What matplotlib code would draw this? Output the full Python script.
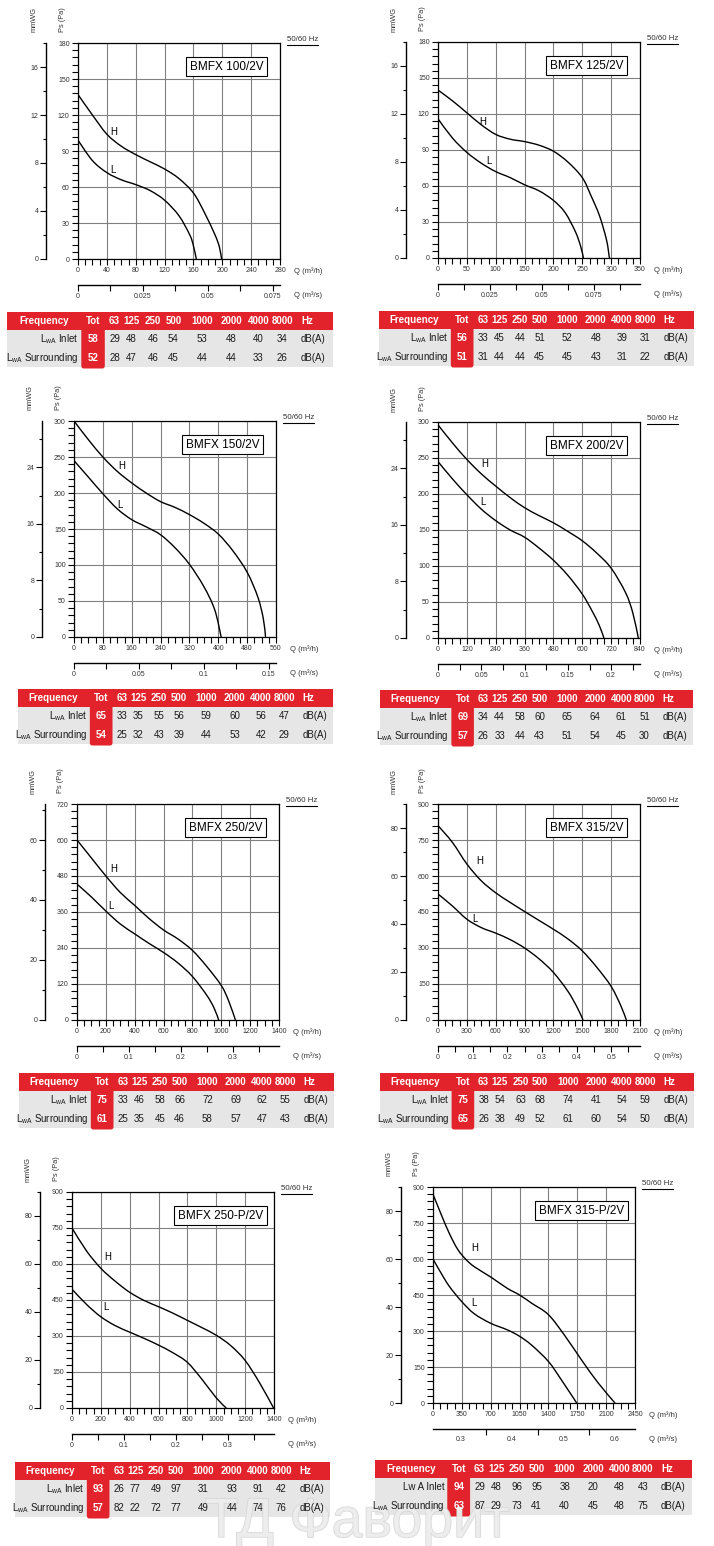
import numpy as np
import matplotlib
matplotlib.use("Agg")
import matplotlib.pyplot as plt
import matplotlib.patheffects as pe
from matplotlib.patches import Rectangle, FancyBboxPatch, PathPatch
from matplotlib.path import Path
from matplotlib.ticker import MultipleLocator, FixedLocator, FuncFormatter

plt.rcParams['font.family'] = ['Liberation Sans', 'DejaVu Sans']
plt.rcParams['mathtext.fontset'] = 'custom'
plt.rcParams['mathtext.rm'] = 'Liberation Sans'

# ---- chart data ----
MODELS = ["BMFX 100/2V", "BMFX 125/2V", "BMFX 150/2V", "BMFX 200/2V",
          "BMFX 250/2V", "BMFX 315/2V", "BMFX 250-P/2V", "BMFX 315-P/2V"]
Q_MAX = [280, 350, 560, 840, 1400, 2100, 1400, 2450]
Q_STEP = [40, 50, 80, 120, 200, 300, 200, 350]
PS_MAX = [180, 180, 300, 300, 720, 900, 900, 900]
PS_STEP = [30, 30, 50, 50, 120, 150, 150, 150]
MMWG_STEP = [4, 4, 8, 8, 20, 20, 20, 20]
PA_PER_MMWG = [10, 10, 9.81, 9.81, 10, 10, 10, 10]

# second flow scale (m3/s) as printed under each chart
QS_OFFSET = [0, 0, 0, 0, 0, 0, 0, 0.247]
M3H_PER_QS = [3600, 3600, 3600, 3600, 3600, 3600, 3600, 6256]
QS_LABELS = [[0, 0.025, 0.05, 0.075], [0, 0.025, 0.05, 0.075], [0, 0.05, 0.1, 0.15],
             [0, 0.05, 0.1, 0.15, 0.2], [0, 0.1, 0.2, 0.3], [0, 0.1, 0.2, 0.3, 0.4, 0.5],
             [0, 0.1, 0.2, 0.3], [0.3, 0.4, 0.5, 0.6]]
QS_MINOR = [[0.0125, 0.0375, 0.0625], [0.0125, 0.0375, 0.0625, 0.0875],
            [0.025, 0.075, 0.125], [0.025, 0.075, 0.125, 0.175, 0.225],
            [0.05, 0.15, 0.25, 0.35], [0.05, 0.15, 0.25, 0.35, 0.45, 0.55],
            [0.05, 0.15, 0.25, 0.35], [0.35, 0.45, 0.55]]

H_Q = [[0, 20, 40, 60, 80, 100, 120, 140, 160, 175, 190, 196, 199],
       [0, 25, 50, 75, 100, 125, 150, 175, 200, 225, 250, 265, 280, 292, 297],
       [0, 40, 80, 120, 160, 200, 240, 280, 320, 360, 400, 440, 480, 510, 525, 531],
       [0, 60, 120, 180, 240, 300, 360, 420, 480, 540, 600, 660, 720, 780, 810, 833],
       [0, 100, 200, 300, 400, 500, 600, 700, 800, 900, 1000, 1050, 1098],
       [0, 150, 300, 450, 600, 750, 900, 1050, 1200, 1350, 1500, 1650, 1800, 1900, 1958],
       [0, 100, 200, 300, 400, 500, 600, 700, 800, 900, 1000, 1100, 1200, 1300, 1397],
       [0, 100, 200, 300, 400, 500, 700, 900, 1050, 1200, 1400, 1600, 1800, 2000, 2207]]
H_PS = [[137, 120, 104, 94, 87, 81, 75, 67, 55, 39, 20, 10, 0],
        [140, 131, 121, 111, 103, 99, 97, 94, 89, 80, 67, 52, 35, 15, 0],
        [300, 274, 250, 230, 214, 200, 188, 180, 170, 158, 143, 120, 90, 55, 25, 0],
        [296, 271, 248, 228, 211, 195, 181, 170, 160, 148, 135, 118, 97, 63, 35, 0],
        [600, 540, 480, 425, 382, 338, 300, 270, 232, 178, 115, 65, 0],
        [810, 740, 650, 580, 530, 490, 452, 415, 378, 338, 288, 220, 140, 60, 0],
        [750, 655, 582, 528, 482, 448, 422, 395, 365, 335, 303, 260, 198, 105, 0],
        [870, 785, 705, 640, 598, 568, 525, 478, 450, 415, 368, 280, 180, 85, 0]]
L_Q = [[0, 20, 40, 60, 80, 100, 120, 140, 155, 160, 164],
       [0, 25, 50, 75, 100, 125, 150, 175, 200, 220, 238, 247, 252],
       [0, 40, 80, 120, 160, 200, 240, 280, 320, 360, 390, 408],
       [0, 60, 120, 180, 240, 300, 360, 420, 480, 540, 600, 640, 670, 690],
       [0, 100, 200, 300, 400, 500, 600, 700, 800, 900, 950, 982],
       [0, 150, 300, 450, 600, 750, 900, 1050, 1200, 1350, 1450, 1508],
       [0, 100, 200, 300, 400, 500, 600, 700, 800, 900, 1000, 1069],
       [0, 100, 200, 350, 500, 700, 900, 1050, 1200, 1400, 1550, 1743]]
L_PS = [[99, 82, 72, 66, 62, 57, 49, 36, 20, 11, 0],
        [116, 100, 88, 79, 72, 67, 61, 56, 48, 38, 22, 10, 0],
        [245, 222, 199, 178, 163, 153, 142, 124, 101, 70, 38, 0],
        [245, 221, 199, 179, 163, 150, 140, 125, 108, 87, 61, 38, 18, 0],
        [453, 410, 363, 320, 287, 255, 225, 190, 145, 82, 40, 0],
        [525, 475, 420, 385, 362, 335, 300, 255, 198, 120, 50, 0],
        [495, 432, 380, 343, 316, 290, 262, 230, 190, 120, 42, 0],
        [600, 540, 485, 422, 372, 332, 305, 278, 240, 173, 100, 0]]
H_TEXT_AT = [(49, 106), (78, 113), (132, 238), (195, 242), (254, 502), (435, 662), (251, 629), (512, 644)]
L_TEXT_AT = [(49, 74), (88, 81), (127, 184), (185, 189), (238, 380), (383, 420), (238, 421), (492, 415)]

# ---- sound tables ----
BANDS = ["63", "125", "250", "500", "1000", "2000", "4000", "8000"]
INLET_TOT = [58, 56, 65, 69, 75, 75, 93, 94]
SURR_TOT = [52, 51, 54, 57, 61, 65, 57, 63]
INLET = [[29, 48, 46, 54, 53, 48, 40, 34], [33, 45, 44, 51, 52, 48, 39, 31],
         [33, 35, 55, 56, 59, 60, 56, 47], [34, 44, 58, 60, 65, 64, 61, 51],
         [33, 46, 58, 66, 72, 69, 62, 55], [38, 54, 63, 68, 74, 41, 54, 59],
         [26, 77, 49, 97, 31, 93, 91, 42], [29, 48, 96, 95, 38, 20, 48, 43]]
SURR = [[28, 47, 46, 45, 44, 44, 33, 26], [31, 44, 44, 45, 45, 43, 31, 22],
        [25, 32, 43, 39, 44, 53, 42, 29], [26, 33, 44, 43, 51, 54, 45, 30],
        [25, 35, 45, 46, 58, 57, 47, 43], [26, 38, 49, 52, 61, 60, 54, 50],
        [82, 22, 72, 77, 49, 44, 74, 76], [87, 29, 73, 41, 40, 45, 48, 75]]
INLET_NAME = [r'L$_\mathregular{wA}$ Inlet'] * 7 + ['Lw A Inlet']
SURR_NAME = r'L$_\mathregular{wA}$ Surrounding'

# ---- layout (pixels) ----
W, H = 714, 1546
AX_POS = [(78, 43), (438, 42), (74, 421), (438, 422), (77, 804), (438, 804), (72, 1192), (433, 1187)]
AX_W, AX_H = 202, 216
TABLE_POS = [(7, 312, 326), (379, 311, 315), (18, 689, 315), (380, 690, 313),
             (19, 1073, 315), (380, 1073, 314), (15, 1462, 315), (375, 1460, 317)]
COLS = [0.330, 0.382, 0.448, 0.510, 0.598, 0.688, 0.771, 0.845]
RED = '#e3232b'
GREY = '#e6e6e6'
TXT = '#333333'


def px_rect(x, y, w, h):
    return [x / W, 1 - (y + h) / H, w / W, h / H]


def smooth_path(xs, ys):
    # Catmull-Rom through the read points, as cubic bezier segments
    pts = np.column_stack([xs, ys]).astype(float)
    verts, codes = [pts[0]], [Path.MOVETO]
    n = len(pts)
    for j in range(n - 1):
        p0 = pts[max(j - 1, 0)]
        p1, p2 = pts[j], pts[j + 1]
        p3 = pts[min(j + 2, n - 1)]
        verts += [p1 + (p2 - p0) / 6, p2 - (p3 - p1) / 6, p2]
        codes += [Path.CURVE4] * 3
    return Path(verts, codes)


fmt = FuncFormatter(lambda v, p: '%g' % round(v, 4))

fig = plt.figure(figsize=(W / 100, H / 100), dpi=100)
overlay = fig.add_axes([0, 0, 1, 1])
overlay.set_xlim(0, W)
overlay.set_ylim(H, 0)
overlay.axis('off')

for i in range(8):
    x0, y0 = AX_POS[i]
    ax = fig.add_axes(px_rect(x0, y0, AX_W, AX_H))
    ax.add_patch(PathPatch(smooth_path(H_Q[i], H_PS[i]), fill=False, ec='black', lw=1.0, zorder=3))
    ax.add_patch(PathPatch(smooth_path(L_Q[i], L_PS[i]), fill=False, ec='black', lw=1.0, zorder=3))
    ax.set_xlim(0, Q_MAX[i])
    ax.set_ylim(0, PS_MAX[i])
    ax.set_xticks(np.arange(0, Q_MAX[i] + 1, Q_STEP[i]))
    ax.set_yticks(np.arange(0, PS_MAX[i] + 1, PS_STEP[i]))
    ax.xaxis.set_minor_locator(MultipleLocator(Q_STEP[i] / 4))
    ax.yaxis.set_minor_locator(MultipleLocator(PS_STEP[i] / 5))
    ax.xaxis.set_major_formatter(fmt)
    ax.yaxis.set_major_formatter(fmt)
    ax.grid(True, which='major', color='#808080', lw=0.8)
    ax.set_axisbelow(True)
    for s in ax.spines.values():
        s.set_linewidth(0.9)
    ax.tick_params(which='both', direction='out', length=4.5, width=0.8,
                   labelsize=5, labelcolor=TXT, pad=1.5)

    ax.text(*H_TEXT_AT[i], 'H', fontsize=7, ha='center', va='center')
    ax.text(*L_TEXT_AT[i], 'L', fontsize=7, ha='center', va='center')
    ax.text(0.735, 0.89, MODELS[i], transform=ax.transAxes, fontsize=8.5,
            ha='center', va='center', zorder=5,
            bbox=dict(boxstyle='square,pad=0.3', fc='white', ec='black', lw=0.8))

    # mmWG scale on the far left
    f = PA_PER_MMWG[i]
    mm = ax.secondary_yaxis(-32 / AX_W, functions=(lambda p, f=f: p / f, lambda m, f=f: m * f))
    mm.set_yticks(np.arange(0, PS_MAX[i] / f, MMWG_STEP[i]))
    mm.yaxis.set_minor_locator(MultipleLocator(MMWG_STEP[i] / 2))
    mm.yaxis.set_major_formatter(fmt)
    mm.spines['left'].set_linewidth(1.0)
    mm.tick_params(which='major', direction='out', length=4.5, width=0.8,
                   labelsize=5, labelcolor=TXT, pad=1)
    mm.tick_params(which='minor', direction='out', length=2.5, width=0.8)

    # m3/s scale under the chart
    a, k = QS_OFFSET[i], M3H_PER_QS[i]
    qs = ax.secondary_xaxis(-26 / AX_H, functions=(lambda q, a=a, k=k: a + q / k,
                                                    lambda s, a=a, k=k: (s - a) * k))
    qs.xaxis.set_major_locator(FixedLocator(QS_LABELS[i]))
    qs.xaxis.set_minor_locator(FixedLocator(QS_MINOR[i]))
    qs.xaxis.set_major_formatter(fmt)
    qs.spines['bottom'].set_linewidth(1.0)
    qs.tick_params(which='major', direction='out', length=0 if a else 4.5, width=0.8,
                   labelsize=5, labelcolor=TXT, pad=5 if a else 1.5)
    qs.tick_params(which='minor', direction='out', length=4, width=0.8)

    # axis titles
    ax.annotate('Q (m³/h)', xy=(1, 0), xycoords='axes fraction', xytext=(10, -9),
                textcoords='offset points', fontsize=5.5, color=TXT, ha='left', va='center')
    ax.annotate('Q (m³/s)', xy=(1, 0), xycoords='axes fraction', xytext=(10, -26),
                textcoords='offset points', fontsize=5.5, color=TXT, ha='left', va='center')
    ax.text(-16 / AX_W, 1 + 23 / AX_H, 'Ps (Pa)', transform=ax.transAxes, rotation=90,
            fontsize=5.3, color=TXT, ha='center', va='center')
    ax.text(-44 / AX_W, 1 + 23 / AX_H, 'mmWG', transform=ax.transAxes, rotation=90,
            fontsize=5.3, color=TXT, ha='center', va='center')
    ax.text(1 + 7 / AX_W, 1.0, '50/60 Hz', transform=ax.transAxes, fontsize=5.7,
            color=TXT, ha='left', va='bottom')
    ax.plot([1 + 7 / AX_W, 1 + 38 / AX_W], [1 - 2 / AX_H] * 2, transform=ax.transAxes,
            color='black', lw=0.8, clip_on=False)

    # sound power table
    tx, ty, tw = TABLE_POS[i]
    hh, rh = 18, 18.5
    overlay.add_patch(Rectangle((tx, ty + hh), tw, 2 * rh, fc=GREY, ec='none'))
    overlay.add_patch(Rectangle((tx, ty), tw, hh, fc=RED, ec='none'))
    overlay.add_patch(FancyBboxPatch((tx + 0.228 * tw, ty), 0.072 * tw, hh + 2 * rh + 1.5,
                                     boxstyle='round,pad=0,rounding_size=2.5', fc=RED, ec='none'))
    yh, y1, y2 = ty + hh / 2, ty + hh + rh / 2, ty + hh + 1.5 * rh
    head = dict(color='white', fontsize=7, fontweight='bold', va='center')
    body = dict(color='#1a1a1a', fontsize=7, va='center')
    overlay.text(tx + 0.113 * tw, yh, 'Frequency', ha='center', **head)
    overlay.text(tx + 0.264 * tw, yh, 'Tot', ha='center', **head)
    overlay.text(tx + 0.264 * tw, y1, str(INLET_TOT[i]), ha='center', **head)
    overlay.text(tx + 0.264 * tw, y2, str(SURR_TOT[i]), ha='center', **head)
    for c, band in enumerate(BANDS):
        overlay.text(tx + COLS[c] * tw, yh, band, ha='center', **head)
        overlay.text(tx + COLS[c] * tw, y1, str(INLET[i][c]), ha='center', **body)
        overlay.text(tx + COLS[c] * tw, y2, str(SURR[i][c]), ha='center', **body)
    overlay.text(tx + 0.902 * tw, yh, 'Hz', ha='left', **head)
    overlay.text(tx + 0.902 * tw, y1, 'dB(A)', ha='left', **body)
    overlay.text(tx + 0.902 * tw, y2, 'dB(A)', ha='left', **body)
    overlay.text(tx + 0.220 * tw, y1, INLET_NAME[i], ha='right', **body)
    overlay.text(tx + 0.220 * tw, y2, SURR_NAME, ha='right', **body)

# watermark: above the table fills, below the table numbers
overlay.text(357, 1537, 'ТД Фаворит', fontsize=40, color='#ededed', alpha=0.85,
             ha='center', va='baseline', zorder=2,
             path_effects=[pe.withStroke(linewidth=1.0, foreground='#d2d2d2')])

fig.savefig('out.png', dpi=100)
